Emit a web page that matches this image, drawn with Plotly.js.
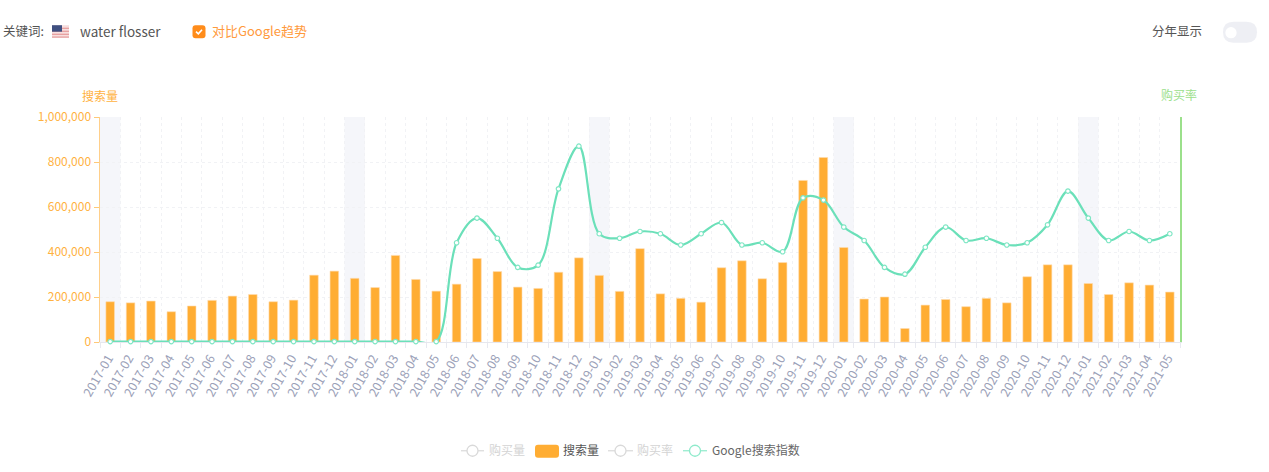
<!DOCTYPE html>
<html>
<head>
<meta charset="utf-8">
<script src="https://cdn.plot.ly/plotly-3.0.1.min.js"></script>
<style>html,body{margin:0;padding:0;background:#fff;overflow:hidden}#chart{width:1269px;height:472px}</style>
</head>
<body>
<div id="chart"></div>
<script>
const months = ["2017-01","2017-02","2017-03","2017-04","2017-05","2017-06","2017-07","2017-08","2017-09","2017-10","2017-11","2017-12",
"2018-01","2018-02","2018-03","2018-04","2018-05","2018-06","2018-07","2018-08","2018-09","2018-10","2018-11","2018-12",
"2019-01","2019-02","2019-03","2019-04","2019-05","2019-06","2019-07","2019-08","2019-09","2019-10","2019-11","2019-12",
"2020-01","2020-02","2020-03","2020-04","2020-05","2020-06","2020-07","2020-08","2020-09","2020-10","2020-11","2020-12",
"2021-01","2021-02","2021-03","2021-04","2021-05"];
const searchVolume = [179000,174000,182000,134500,160000,185000,204000,211000,179000,186000,297000,315000,
283000,242000,385000,278000,226000,257000,371000,313000,244000,238000,310000,374000,
296000,225000,415000,214000,194000,177000,330000,361000,281000,353000,718000,820000,
420000,191000,200000,60000,164000,189000,157000,194000,174000,290000,343000,343000,
260000,211000,263000,253000,222000];
const googleIndex = [0,0,0,0,0,0,0,0,0,0,0,0,0,0,0,0,0,44,55,46,33,34,68,87,
48,46,49,48,43,48,53,43,44,40,64,63,51,45,33,30,42,51,45,46,43,44,52,67,55,45,49,45,48];
const yTicks = [0,200000,400000,600000,800000,1000000];
const yTickLabels = ["0","200,000","400,000","600,000","800,000","1,000,000"];

const L = 100, R = 1180, T = 116.5, B = 342;
const px = v => (v - L) / (R - L);
const py = v => (B - v) / (B - T);
const FONT = '"Noto Sans CJK SC","Noto Sans",sans-serif';
const ORANGE = '#ffb23f', GREEN = '#9be08b', LINE = '#6be0b9';

function note(text, x, y, color, size, anchor) {
  const a = anchor || 'left';
  return {text, x: px(a === 'left' ? x - 2 : x), y: py(y - 1), xref: 'paper', yref: 'paper', xanchor: a, yanchor: 'middle',
    showarrow: false, font: {family: FONT, size: size || 12, color}};
}
function rect(x0, y0, x1, y1, fill) {
  return {type: 'rect', xref: 'paper', yref: 'paper', x0: px(x0), x1: px(x1), y0: py(y0), y1: py(y1),
    fillcolor: fill, line: {width: 0}};
}
function rrect(x0, y0, x1, y1, r, fill) {
  const X = v => px(v), Y = v => py(v);
  const p = `M${X(x0+r)},${Y(y0)} L${X(x1-r)},${Y(y0)} Q${X(x1)},${Y(y0)} ${X(x1)},${Y(y0+r)} L${X(x1)},${Y(y1-r)} Q${X(x1)},${Y(y1)} ${X(x1-r)},${Y(y1)} L${X(x0+r)},${Y(y1)} Q${X(x0)},${Y(y1)} ${X(x0)},${Y(y1-r)} L${X(x0)},${Y(y0+r)} Q${X(x0)},${Y(y0)} ${X(x0+r)},${Y(y0)} Z`;
  return {type: 'path', xref: 'paper', yref: 'paper', path: p, fillcolor: fill, line: {width: 0}};
}
function circle(cx, cy, r, fill, stroke) {
  return {type: 'circle', xref: 'paper', yref: 'paper', x0: px(cx-r), x1: px(cx+r), y0: py(cy+r), y1: py(cy-r),
    fillcolor: fill, line: {color: stroke || fill, width: 1.3}};
}
function hline(x0, x1, y, color) {
  return {type: 'line', xref: 'paper', yref: 'paper', x0: px(x0), x1: px(x1), y0: py(y), y1: py(y), line: {color, width: 1.2}};
}
function lineKey(x0, x1, y, color) {
  return [hline(x0, x1, y, color), circle((x0+x1)/2, y, 5.5, '#fff', color)];
}

const bands = months.map((m, i) => [m, i]).filter(d => d[0].endsWith('-01')).map(d => ({
  type: 'rect', xref: 'x', yref: 'paper', x0: d[1] - 0.5, x1: d[1] + 0.5, y0: 0, y1: 1,
  fillcolor: '#f5f6fa', line: {width: 0}, layer: 'below'
}));

const flag = [rect(52, 24.5, 69, 37, '#f7dede')];
[27, 30, 33, 35.8].forEach(y => flag.push(rect(52, y, 69, y + 1.2, '#e59a9a')));
flag.push(rect(52, 24.5, 62, 31, '#3f4f80'));

const checkbox = [rrect(192.5, 24.5, 205.5, 37.5, 3, '#ff8c1a'),
  {type: 'path', xref: 'paper', yref: 'paper',
   path: `M${px(196)},${py(31)} L${px(198.3)},${py(33.2)} L${px(202)},${py(29)}`,
   line: {color: '#fff', width: 1.6}}];

const toggle = [rrect(1223, 21, 1257, 42, 10.5, '#eeeff4'), circle(1231, 32, 5, '#fff')];

const legendShapes = [
  ...lineKey(461, 484, 451, '#d9d9d9'),
  rrect(535, 445, 559, 458, 3, '#ffad33'),
  ...lineKey(608, 633, 451, '#d9d9d9'),
  ...lineKey(683, 707, 451, '#8eeacb')
];

const data = [
  {type: 'bar', name: '搜索量', x: months, y: searchVolume, width: 0.42,
   marker: {color: '#ffad33', line: {color: '#ffdcae', width: 0.6}}, hoverinfo: 'skip'},
  {type: 'scatter', mode: 'lines+markers', name: 'Google搜索指数', x: months, y: googleIndex, yaxis: 'y2',
   line: {color: LINE, width: 2.2, shape: 'spline', smoothing: 1},
   marker: {size: 4.5, color: '#fff', line: {color: '#7fe6c4', width: 1.2}},
   cliponaxis: false, hoverinfo: 'skip'}
];

const layout = {
  width: 1269, height: 472, autosize: false, showlegend: false,
  paper_bgcolor: '#fff', plot_bgcolor: '#fff',
  margin: {l: L, r: 1269 - R, t: T, b: 472 - B, pad: 0},
  font: {family: FONT},
  xaxis: {
    type: 'category', categoryorder: 'array', categoryarray: months, range: [-0.5, 52.5],
    tickmode: 'array', tickvals: months, ticktext: months, tickson: 'boundaries',
    tickangle: -60, ticks: 'outside', ticklen: 5, tickcolor: '#e8e9f0', tickwidth: 1,
    ticklabelstandoff: 3, ticklabelshift: -2,
    tickfont: {family: FONT, size: 12.5, color: '#9ba1b8'},
    showline: true, linecolor: '#e6e7ee', linewidth: 1, layer: 'below traces',
    showgrid: true, gridcolor: '#f1f2f5', griddash: 'dot', gridwidth: 1, zeroline: false, automargin: false
  },
  yaxis: {
    range: [0, 1000000], tickmode: 'array', tickvals: yTicks, ticktext: yTickLabels,
    ticks: 'outside', ticklen: 5, tickcolor: '#ffc978', tickwidth: 1,
    tickfont: {family: FONT, size: 12, color: ORANGE},
    showline: true, linecolor: '#ffcf8a', linewidth: 1.5, layer: 'above traces',
    showgrid: true, gridcolor: '#f1f2f5', griddash: 'dot', gridwidth: 1, zeroline: false, automargin: false
  },
  yaxis2: {
    overlaying: 'y', side: 'right', anchor: 'x', range: [-0.2, 100],
    showticklabels: false, ticks: '', showgrid: false, zeroline: false,
    showline: true, linecolor: GREEN, linewidth: 1.5
  },
  shapes: [...bands, ...flag, ...checkbox, ...toggle, ...legendShapes],
  annotations: [
    note('关键词:', 3, 31, '#555', 12.5),
    note('water flosser', 80, 31, '#555', 13.5),
    note('对比Google趋势', 212, 31, '#ff9a3c', 13),
    note('分年显示', 1152, 31, '#555', 12.5),
    note('搜索量', 100, 96, ORANGE, 12, 'center'),
    note('购买率', 1179, 95, GREEN, 12, 'center'),
    note('购买量', 489, 451, '#d4d4d4', 12),
    note('搜索量', 563, 451, '#555', 12),
    note('购买率', 637, 451, '#d4d4d4', 12),
    note('Google搜索指数', 712, 451, '#666', 12)
  ]
};
Plotly.newPlot('chart', data, layout, {displayModeBar: false, staticPlot: true});
</script>
</body>
</html>
